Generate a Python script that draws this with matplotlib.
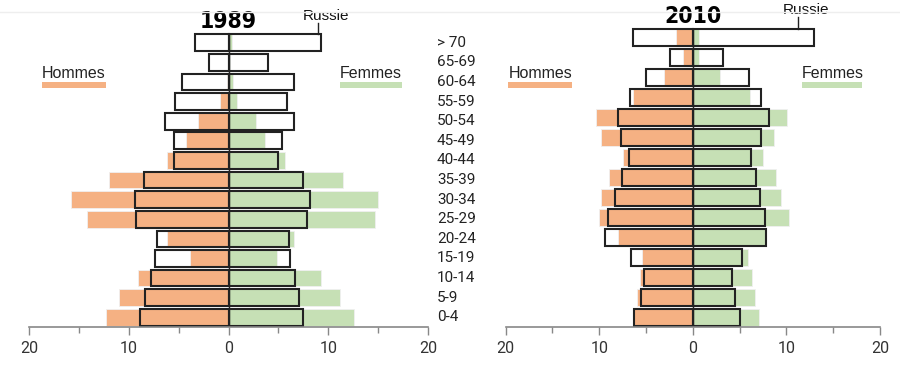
import matplotlib.pyplot as plt
from matplotlib.patches import Rectangle
from matplotlib.transforms import blended_transform_factory
import numpy as np

ages = ['0-4', '5-9', '10-14', '15-19', '20-24', '25-29', '30-34', '35-39',
        '40-44', '45-49', '50-54', '55-59', '60-64', '65-69', '> 70']

# 1989 : region (colored bars) and Russie (outline)
h89 = [12.3, 11.0, 9.1, 3.9, 6.2, 14.2, 15.8, 12.0, 6.2, 4.3, 3.1, 0.9, 0.2, 0.0, 0.0]
f89 = [12.6, 11.2, 9.3, 4.9, 6.6, 14.7, 15.0, 11.5, 5.7, 3.7, 2.8, 0.9, 0.5, 0.2, 0.4]
rh89 = [8.9, 8.4, 7.8, 7.4, 7.2, 9.3, 9.4, 8.5, 5.5, 5.5, 6.4, 5.4, 4.7, 2.0, 3.4]
rf89 = [7.5, 7.1, 6.7, 6.2, 6.1, 7.9, 8.2, 7.5, 5.0, 5.4, 6.6, 5.9, 6.6, 4.0, 9.3]

# 2010
h10 = [6.3, 6.0, 5.7, 5.4, 8.0, 10.0, 9.8, 9.0, 7.5, 9.8, 10.4, 6.4, 3.1, 1.0, 1.8]
f10 = [7.1, 6.6, 6.3, 5.9, 7.8, 10.3, 9.4, 8.9, 7.5, 8.7, 10.1, 6.1, 2.9, 0.7, 0.7]
rh10 = [6.3, 5.5, 5.2, 6.6, 9.4, 9.1, 8.3, 7.6, 6.8, 7.7, 8.0, 6.7, 5.0, 2.4, 6.4]
rf10 = [5.0, 4.5, 4.2, 5.3, 7.8, 7.7, 7.2, 6.7, 6.2, 7.3, 8.1, 7.3, 6.0, 3.2, 13.0]

orange = '#F5B183'
green = '#C6E0B5'
tick_font = 'Roboto'
label_font = 'Liberation Sans'

fig = plt.figure(figsize=(9, 3.66), dpi=100)
ax1 = fig.add_axes([29 / 900, 39 / 366, 399 / 900, 297 / 366])
ax2 = fig.add_axes([505.7 / 900, 38.7 / 366, 374.3 / 900, 303 / 366])

y = np.arange(len(ages))
bh = 0.85


def pyramid(ax, h, f, rh, rf, title, title_y, ylo, yhi, russie_x, russie_tx):
    ax.barh(y, -np.array(h), height=bh, color=orange, edgecolor='#f0f0f0', linewidth=0.6)
    ax.barh(y, f, height=bh, color=green, edgecolor='#f0f0f0', linewidth=0.6)
    ax.barh(y, -np.array(rh), height=bh, facecolor='none', edgecolor='#222222', linewidth=1.5)
    ax.barh(y, rf, height=bh, facecolor='none', edgecolor='#222222', linewidth=1.5)
    top = len(ages) - 1 + bh / 2
    ax.axvline(0, color='#222222', linewidth=1.0, ymin=0, ymax=(top - ylo) / (yhi - ylo))
    ax.set_xlim(-20, 20)
    ax.set_ylim(ylo, yhi)
    for s in ['top', 'left', 'right']:
        ax.spines[s].set_visible(False)
    ax.spines['bottom'].set_color('#888888')
    ax.spines['bottom'].set_linewidth(1.2)
    ax.set_yticks([])
    ax.set_xticks([-20, -10, 0, 10, 20])
    ax.set_xticklabels(['20', '10', '0', '10', '20'], fontfamily=tick_font, fontsize=11.5, color='#333333')
    ax.set_xticks([-15, -5, 5, 15], minor=True)
    ax.tick_params(axis='x', which='major', length=6, color='#888888', width=1, pad=4)
    ax.tick_params(axis='x', which='minor', length=4, color='#888888', width=1)
    ax.text(0, title_y, title, transform=blended_transform_factory(ax.transData, fig.transFigure),
            ha='center', va='center', fontsize=16.5, fontweight='bold',
            fontfamily='DejaVu Sans', fontstretch='condensed')
    ax.plot([russie_x, russie_x], [top, 15.02], color='#222222', linewidth=1, clip_on=False)
    ax.text(russie_tx, 15.0, 'Russie', ha='left', va='bottom', fontsize=11,
            fontfamily=label_font, color='#111111', clip_on=False)


pyramid(ax1, h89, f89, rh89, rf89, '1989', 1 - 22 / 366, -0.495, 14.65, 8.95, 7.4)
pyramid(ax2, h10, f10, rh10, rf10, '2010', 1 - 16.5 / 366, -0.49, 14.64, 11.2, 9.6)

# age labels between the two pyramids
tr = blended_transform_factory(fig.transFigure, ax1.transData)
for i, a in enumerate(ages):
    ax1.text(437 / 900, i, a, transform=tr, ha='left', va='center', fontsize=11,
             fontfamily=tick_font, color='#222222', clip_on=False)

# legend labels with colored underline
for x0, x1, txt, col in [(42, 105.6, 'Hommes', orange), (340, 401.5, 'Femmes', green),
                         (508.3, 572, 'Hommes', orange), (801.7, 862, 'Femmes', green)]:
    fig.text(x0 / 900, 1 - 74 / 366, txt, ha='left', va='center', fontsize=11.5,
             fontfamily=label_font, color='#222222')
    fig.patches.append(Rectangle((x0 / 900, 1 - 87.5 / 366), (x1 - x0) / 900, 5.5 / 366,
                                 transform=fig.transFigure, facecolor=col, edgecolor='none'))

# thin line across the top
fig.add_artist(plt.Line2D([0, 1], [1 - 12 / 366, 1 - 12 / 366], transform=fig.transFigure,
                          color='#eeeeee', linewidth=1))

fig.savefig('out.png', dpi=100)
